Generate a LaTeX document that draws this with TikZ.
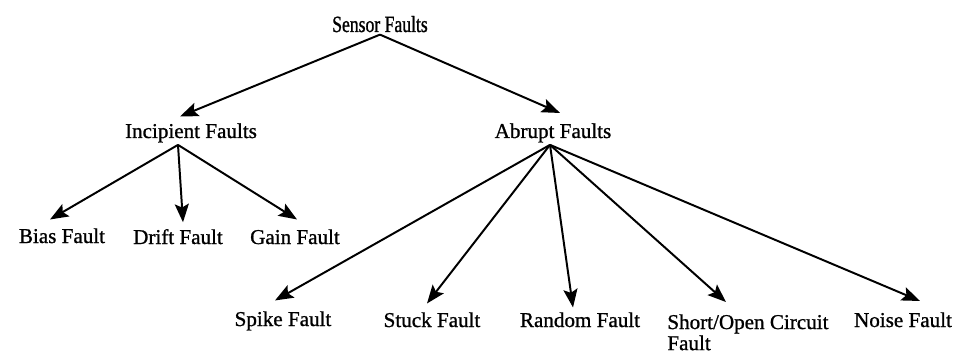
\documentclass[tikz,border=0pt]{standalone}
\usepackage{fontspec}
\setmainfont{Liberation Serif}[FakeBold=1]
\newfontfamily\narrowserif{Liberation Serif}[FakeStretch=0.76,FakeBold=1]
\usetikzlibrary{arrows.meta,calc}

\begin{document}
\begin{tikzpicture}[x=0.025cm,y=-0.025cm,>={Stealth[length=13pt,width=10pt,inset=2.5pt]},
  lbl/.style={font=\fontsize{15}{15}\selectfont,inner sep=1.5pt,anchor=base},
  link/.style={->,line width=1.4pt}]
  \useasboundingbox (0,0) rectangle (960,354);
  % root and the two fault classes
  \node[lbl,font=\narrowserif\fontsize{16.5}{18}\selectfont] (sensor) at (380,32) {Sensor Faults};
  \node[lbl] (inc) at (191,138) {Incipient Faults};
  \node[lbl] (abr) at (553,138) {Abrupt Faults};
  % incipient faults
  \node[lbl] (bias) at (62,243) {Bias Fault};
  \node[lbl] (drift) at (178,244) {Drift Fault};
  \node[lbl] (gain) at (295,244) {Gain Fault};
  % abrupt faults
  \node[lbl] (spike) at (283,326) {Spike Fault};
  \node[lbl] (stuck) at (432,327) {Stuck Fault};
  \node[lbl] (random) at (580,327) {Random Fault};
  \node[lbl,anchor=north west,align=left] (short) at (665,312) {Short/Open Circuit\\Fault};
  \node[lbl] (noise) at (903,327) {Noise Fault};

  \draw[link] (sensor.south) -- ($(inc.north)+(-11,-4.5)$);
  \draw[link] (sensor.south) -- ($(abr.north)+(7,-8)$);
  \draw[link] ($(inc.south)+(-13,0)$) -- ($(bias.north)+(-12,-6.5)$);
  \draw[link] ($(inc.south)+(-13,0)$) -- ($(drift.north)+(5,-4.5)$);
  \draw[link] ($(inc.south)+(-13,0)$) -- ($(gain.north)+(2,-7.5)$);
  \draw[link] ($(abr.south)+(-3,0)$) -- ($(spike.north)+(-8,-8.5)$);
  \draw[link] ($(abr.south)+(-3,0)$) -- ($(stuck.north)+(-5,-6.5)$);
  \draw[link] ($(abr.south)+(-3,0)$) -- ($(random.north)+(-7,-2.5)$);
  \draw[link] ($(abr.south)+(-3,0)$) -- ($(short.north)+(-22,-10)$);
  \draw[link] ($(abr.south)+(-3,0)$) -- ($(noise.north)+(17,-9)$);
\end{tikzpicture}
\end{document}
